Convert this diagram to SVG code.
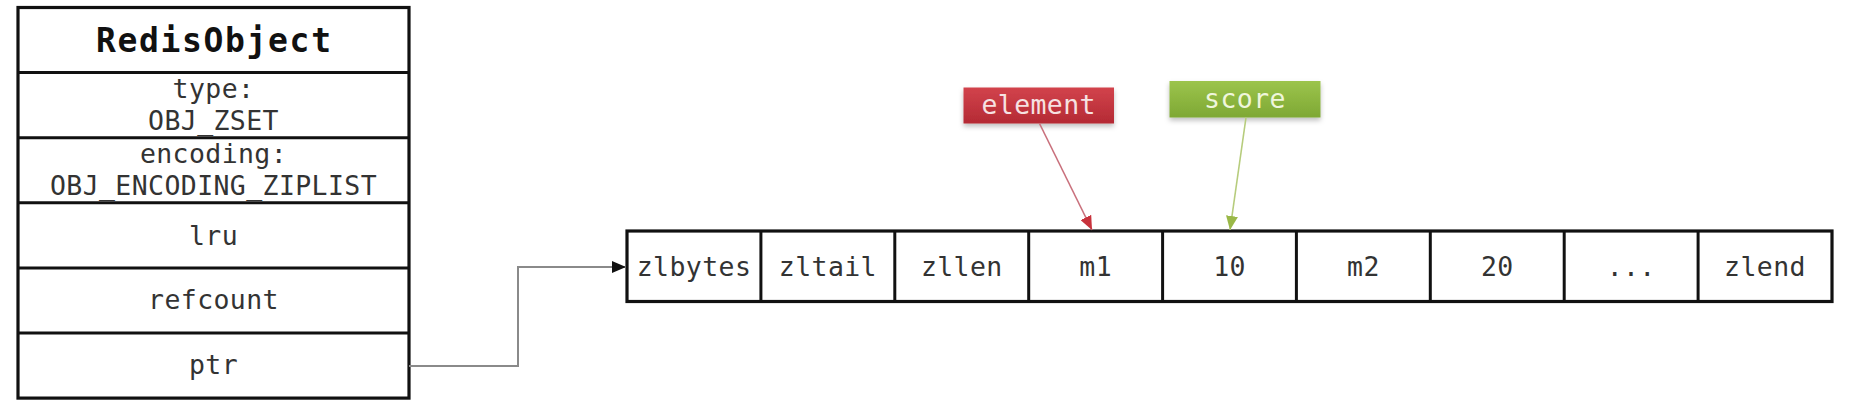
<svg xmlns="http://www.w3.org/2000/svg" width="1858" height="410" viewBox="0 0 1858 410">
  <style>
    .box { fill: #ffffff; stroke: #111111; stroke-width: 3.2; }
    .div { stroke: #111111; stroke-width: 3; }
    .t { font-family: "DejaVu Sans Mono", "Liberation Mono", monospace; font-size: 26.5px; fill: #333333; text-anchor: middle; letter-spacing: 0.4px; }
    .title { font-family: "DejaVu Sans Mono", "Liberation Mono", monospace; font-size: 33px; font-weight: bold; fill: #111111; text-anchor: middle; }
    .lbl { font-family: "DejaVu Sans Mono", "Liberation Mono", monospace; font-size: 26.5px; text-anchor: middle; letter-spacing: 0.4px; }
    .conn { fill: none; stroke: #8a8a8a; stroke-width: 2; }
  </style>
  <defs>
    <linearGradient id="gRed" x1="0" y1="0" x2="0" y2="1">
      <stop offset="0" stop-color="#d2434c"/>
      <stop offset="1" stop-color="#b42a34"/>
    </linearGradient>
    <linearGradient id="gGreen" x1="0" y1="0" x2="0" y2="1">
      <stop offset="0" stop-color="#9cc44c"/>
      <stop offset="1" stop-color="#7ea834"/>
    </linearGradient>
    <filter id="shadow" x="-10%" y="-20%" width="120%" height="160%">
      <feDropShadow dx="0" dy="3" stdDeviation="2.5" flood-color="#000000" flood-opacity="0.25"/>
    </filter>
    <marker id="arrBlack" viewBox="0 0 14 12" refX="14" refY="6" markerWidth="14" markerHeight="12" markerUnits="userSpaceOnUse" orient="auto">
      <path d="M0,0 L14,6 L0,12 Z" fill="#111111"/>
    </marker>
    <marker id="arrRed" viewBox="0 0 14 12" refX="14" refY="6" markerWidth="14" markerHeight="12" markerUnits="userSpaceOnUse" orient="auto">
      <path d="M0,0 L14,6 L0,12 Z" fill="#c8323c"/>
    </marker>
    <marker id="arrGreen" viewBox="0 0 14 12" refX="14" refY="6" markerWidth="14" markerHeight="12" markerUnits="userSpaceOnUse" orient="auto">
      <path d="M0,0 L14,6 L0,12 Z" fill="#9ab848"/>
    </marker>
  </defs>
  <rect width="1858" height="410" fill="#ffffff"/>

  <g id="redisObject">
    <rect class="box" x="18" y="7.5" width="391" height="390.6"/>
    <line class="div" x1="18" y1="72.6" x2="409" y2="72.6"/>
    <line class="div" x1="18" y1="137.7" x2="409" y2="137.7"/>
    <line class="div" x1="18" y1="202.8" x2="409" y2="202.8"/>
    <line class="div" x1="18" y1="267.9" x2="409" y2="267.9"/>
    <line class="div" x1="18" y1="333" x2="409" y2="333"/>
    <text class="title" x="213.5" y="52" textLength="235" lengthAdjust="spacing">RedisObject</text>
    <text class="t" x="213.5" y="98">type:</text>
    <text class="t" x="213.5" y="130">OBJ_ZSET</text>
    <text class="t" x="213.5" y="163">encoding:</text>
    <text class="t" x="213.5" y="195">OBJ_ENCODING_ZIPLIST</text>
    <text class="t" x="213.5" y="245">lru</text>
    <text class="t" x="213.5" y="309">refcount</text>
    <text class="t" x="213.5" y="374">ptr</text>
  </g>

  <g id="ziplist">
    <rect class="box" x="627" y="231" width="1205" height="70.5"/>
    <line class="div" x1="760.9" y1="231" x2="760.9" y2="301.5"/>
    <line class="div" x1="894.8" y1="231" x2="894.8" y2="301.5"/>
    <line class="div" x1="1028.7" y1="231" x2="1028.7" y2="301.5"/>
    <line class="div" x1="1162.6" y1="231" x2="1162.6" y2="301.5"/>
    <line class="div" x1="1296.4" y1="231" x2="1296.4" y2="301.5"/>
    <line class="div" x1="1430.3" y1="231" x2="1430.3" y2="301.5"/>
    <line class="div" x1="1564.2" y1="231" x2="1564.2" y2="301.5"/>
    <line class="div" x1="1698.1" y1="231" x2="1698.1" y2="301.5"/>
    <text class="t" x="694" y="275.5">zlbytes</text>
    <text class="t" x="827.9" y="275.5">zltail</text>
    <text class="t" x="961.8" y="275.5">zllen</text>
    <text class="t" x="1095.7" y="275.5">m1</text>
    <text class="t" x="1229.5" y="275.5">10</text>
    <text class="t" x="1363.4" y="275.5">m2</text>
    <text class="t" x="1497.3" y="275.5">20</text>
    <text class="t" x="1631.2" y="275.5">...</text>
    <text class="t" x="1765" y="275.5">zlend</text>
  </g>

  <g id="elementLabel">
    <rect x="963.5" y="87.5" width="150.5" height="36" fill="url(#gRed)" filter="url(#shadow)"/>
    <text class="lbl" x="1038.7" y="113.5" fill="#f6e2e2">element</text>
  </g>

  <g id="scoreLabel">
    <rect x="1169.5" y="81" width="151" height="36.5" fill="url(#gGreen)" filter="url(#shadow)"/>
    <text class="lbl" x="1245" y="108" fill="#eff6dc">score</text>
  </g>

  <g id="connectors">
    <path class="conn" d="M409,366 H518 V267 H626" marker-end="url(#arrBlack)"/>
    <line x1="1039.5" y1="123.5" x2="1092" y2="230" stroke="#c9707c" stroke-width="1.6" marker-end="url(#arrRed)"/>
    <line x1="1246" y1="117.5" x2="1230" y2="230" stroke="#b6cc7c" stroke-width="1.6" marker-end="url(#arrGreen)"/>
  </g>
</svg>
